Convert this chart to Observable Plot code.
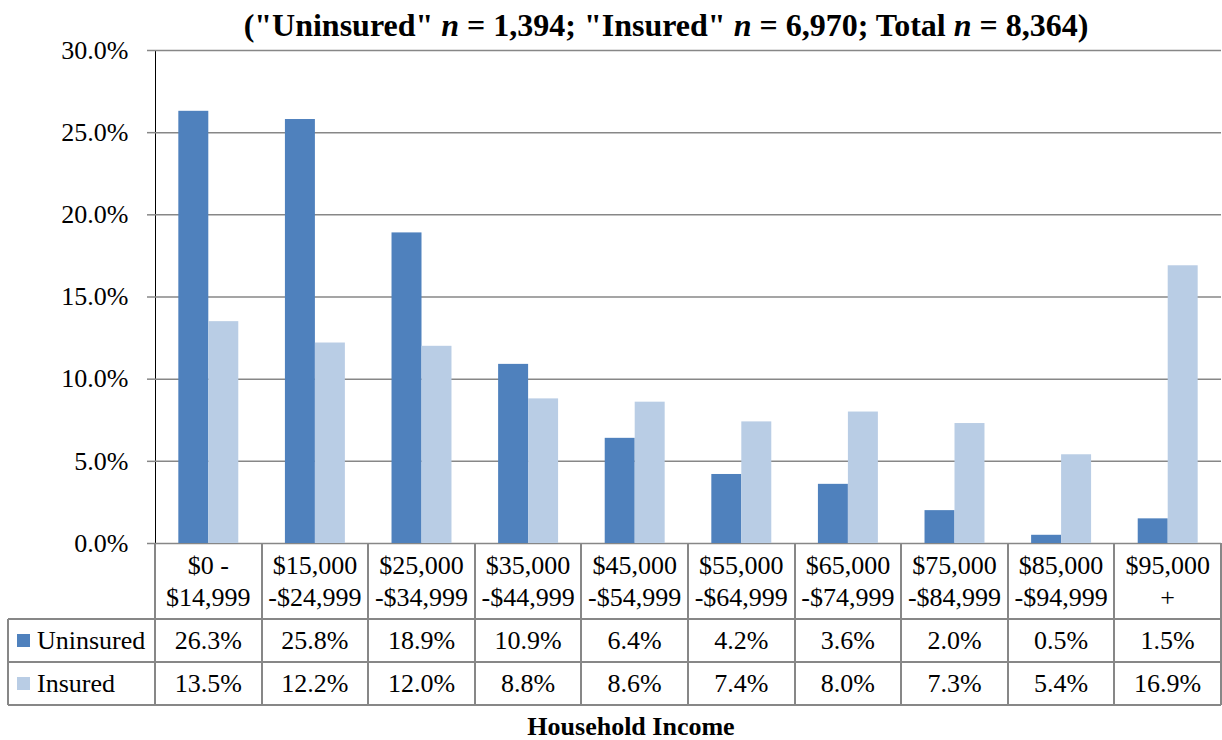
<!DOCTYPE html>
<html><head><meta charset="utf-8">
<script src="https://cdn.jsdelivr.net/npm/d3@7"></script>
<script src="https://cdn.jsdelivr.net/npm/@observablehq/plot@0.6"></script>
<style>
body{margin:0;background:#fff}
#chart{position:relative;width:1222px;height:740px;font-family:"Liberation Serif","Times New Roman",serif;color:#000;overflow:hidden;background:#fff}
#title{position:absolute;top:8px;left:666px;transform:translateX(-50%);white-space:nowrap;font-weight:bold;font-size:32px;line-height:34px;z-index:2}
#plot{position:absolute;left:0;top:0;z-index:1}
#plot svg [aria-label^="y-axis"] line,#plot svg [aria-label^="y-axis"] path{stroke:#878787;stroke-width:1.5px;stroke-opacity:1}
.ln{position:absolute;background:#878787;z-index:2}
.cell{position:absolute;text-align:center;font-size:26px;white-space:nowrap;z-index:2}
#xlabel{position:absolute;top:712px;left:631px;transform:translateX(-50%);font-weight:bold;font-size:26px;line-height:30px;white-space:nowrap;z-index:2}
</style></head>
<body>
<div id="chart">
  <div id="plot"></div>
  <div id="title">("Uninsured" <i>n</i> = 1,394; "Insured" <i>n</i> = 6,970; Total <i>n</i> = 8,364)</div>
  <div id="xlabel">Household Income</div>
</div>
<script>
const catLine1 = ["$0 -", "$15,000", "$25,000", "$35,000", "$45,000", "$55,000", "$65,000", "$75,000", "$85,000", "$95,000"];
const catLine2 = ["$14,999", "-$24,999", "-$34,999", "-$44,999", "-$54,999", "-$64,999", "-$74,999", "-$84,999", "-$94,999", "+"];
const categories = catLine1.map((a, i) => a + " " + catLine2[i]);
const seriesNames = ["Uninsured", "Insured"];
const seriesColors = ["#4F81BD", "#B9CDE5"];
const uninsured = [26.3, 25.8, 18.9, 10.9, 6.4, 4.2, 3.6, 2.0, 0.5, 1.5];
const insured = [13.5, 12.2, 12.0, 8.8, 8.6, 7.4, 8.0, 7.3, 5.4, 16.9];
const yTicks = [0, 5, 10, 15, 20, 25, 30];

const FONT = '"Liberation Serif","Times New Roman",serif';
const rows = categories.map((c, i) => ({cat: c, uninsured: uninsured[i], insured: insured[i]}));
const pInner = 0.4375, pOuter = pInner / 2;
const step = (1222 - 155 - 1) / categories.length;
const half = step * (1 - pInner) / 2;

const plot = Plot.plot({
  width: 1222,
  height: 544,
  marginTop: 50,
  marginBottom: 1,
  marginLeft: 155,
  marginRight: 1,
  style: {fontSize: "26px", fontFamily: FONT, background: "transparent", color: "black", overflow: "visible"},
  x: {domain: categories, paddingInner: pInner, paddingOuter: pOuter, round: false, axis: null},
  y: {domain: [0, 30], ticks: yTicks, tickFormat: d => d.toFixed(1) + "%", tickSize: 8, tickPadding: 19, label: null, line: true},
  marks: [
    Plot.ruleY(yTicks, {stroke: "#878787", strokeWidth: 1.5}),
    Plot.barY(rows, {x: "cat", y: "uninsured", fill: seriesColors[0], insetRight: half}),
    Plot.barY(rows, {x: "cat", y: "insured", fill: seriesColors[1], insetLeft: half})
  ]
});
document.getElementById("plot").appendChild(plot);

// Data table laid out from the plot's x scale
const chart = document.getElementById("chart");
const xs = plot.scale("x");
const colLeft = c => xs.apply(c) - (xs.step - xs.bandwidth) / 2;
const y0 = 543, rowY = [543, 619, 662, 705], tableLeft = 8;
const right = colLeft(categories[categories.length - 1]) + xs.step;
function add(cls, css, html) {
  const d = document.createElement("div");
  d.className = cls;
  Object.assign(d.style, css);
  if (html != null) d.innerHTML = html;
  chart.appendChild(d);
  return d;
}
const lw = 2;
[rowY[1], rowY[2], rowY[3]].forEach(y => add("ln", {left: tableLeft + "px", top: (y - lw / 2) + "px", width: (right - tableLeft) + "px", height: lw + "px"}));
add("ln", {left: (tableLeft - lw / 2) + "px", top: rowY[1] + "px", width: lw + "px", height: (rowY[3] - rowY[1]) + "px"});
categories.forEach(c => {
  const x = colLeft(c);
  add("ln", {left: (x - lw / 2) + "px", top: y0 + "px", width: lw + "px", height: (rowY[3] - y0) + "px"});
});
add("ln", {left: (right - lw / 2) + "px", top: y0 + "px", width: lw + "px", height: (rowY[3] - y0) + "px"});
categories.forEach((c, i) => {
  const x = colLeft(c);
  add("cell", {left: x + "px", width: xs.step + "px", top: (y0 + 7) + "px", lineHeight: "32px"}, catLine1[i] + "<br>" + catLine2[i]);
  add("cell", {left: x + "px", width: xs.step + "px", top: rowY[1] + "px", height: (rowY[2] - rowY[1]) + "px", lineHeight: (rowY[2] - rowY[1]) + "px"}, uninsured[i].toFixed(1) + "%");
  add("cell", {left: x + "px", width: xs.step + "px", top: rowY[2] + "px", height: (rowY[3] - rowY[2]) + "px", lineHeight: (rowY[3] - rowY[2]) + "px"}, insured[i].toFixed(1) + "%");
});
seriesNames.forEach((s, k) => {
  const top = rowY[k + 1], h = rowY[k + 2] - rowY[k + 1];
  add("ln", {left: "17px", top: (top + h / 2 - 7) + "px", width: "13px", height: "13px", background: seriesColors[k]});
  add("cell", {left: "37px", top: top + "px", height: h + "px", lineHeight: h + "px", textAlign: "left"}, s);
});
</script>
</body></html>
